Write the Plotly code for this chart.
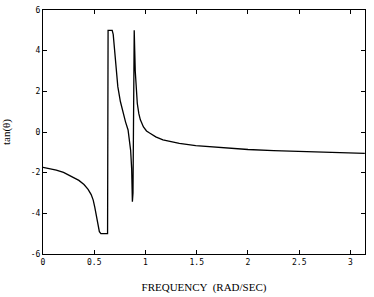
import plotly.graph_objects as go

freq = [0.0, 0.07, 0.13, 0.20, 0.29, 0.35, 0.40, 0.44, 0.47, 0.49, 0.505, 0.52, 0.535, 0.55, 0.565,
        0.62, 0.63, 0.635, 0.675, 0.685, 0.695, 0.705, 0.715, 0.73, 0.755, 0.78, 0.805, 0.83,
        0.845, 0.855, 0.865, 0.872, 0.878, 0.89, 0.895, 0.90, 0.91, 0.92, 0.935, 0.95, 0.98,
        1.01, 1.04, 1.10, 1.17, 1.25, 1.33, 1.49, 1.65, 1.82, 2.0, 2.25, 2.5, 2.75, 3.0, 3.14]
tan_theta = [-1.74, -1.79, -1.87, -1.99, -2.2, -2.38, -2.58, -2.82, -3.08, -3.35, -3.7, -4.17, -4.6, -4.9, -5.0,
             -5.0, -5.0, 5.0, 5.0, 4.8, 4.3, 3.7, 3.0, 2.23, 1.5, 0.92, 0.5, 0.1,
             -0.4, -0.9, -1.8, -3.43, -3.0, 5.0, 4.0, 3.0, 2.0, 1.4, 0.9, 0.6, 0.25,
             0.05, -0.05, -0.24, -0.39, -0.48, -0.56, -0.67, -0.74, -0.80, -0.86, -0.92, -0.96, -1.0, -1.03, -1.05]

x_ticks = [0, 0.5, 1, 1.5, 2, 2.5, 3]
x_labels = ["0", "0.5", "1", "1.5", "2", "2.5", "3"]
y_ticks = [-6, -4, -2, 0, 2, 4, 6]
y_labels = ["-6", "-4", "-2", "0", "2", "4", "6"]

fig = go.Figure(go.Scatter(x=freq, y=tan_theta, mode="lines",
                           line=dict(color="black", width=1.3), showlegend=False))

tickfont = dict(family="DejaVu Sans Mono", size=8, color="black")
fig.update_xaxes(range=[0, 3.1416], tickvals=x_ticks, ticktext=x_labels,
                 ticks="inside", ticklen=4, tickcolor="black", mirror="ticks",
                 showline=True, linecolor="black", linewidth=1, showgrid=False,
                 zeroline=False, tickfont=tickfont, automargin=False,
                 title=dict(text="FREQUENCY  (RAD/SEC)", standoff=17,
                            font=dict(family="Liberation Serif", size=11, color="black")))
fig.update_yaxes(range=[-6, 6], tickvals=y_ticks, ticktext=y_labels,
                 ticks="inside", ticklen=4, tickcolor="black", mirror="ticks",
                 showline=True, linecolor="black", linewidth=1, showgrid=False,
                 zeroline=False, tickfont=tickfont, automargin=False,
                 title=dict(text="tan(θ)", standoff=19,
                            font=dict(family="Liberation Serif", size=11, color="black")))
fig.update_layout(width=374, height=297, margin=dict(l=43, r=9, t=10, b=43),
                  paper_bgcolor="white", plot_bgcolor="white")
fig.write_html("out.html")
